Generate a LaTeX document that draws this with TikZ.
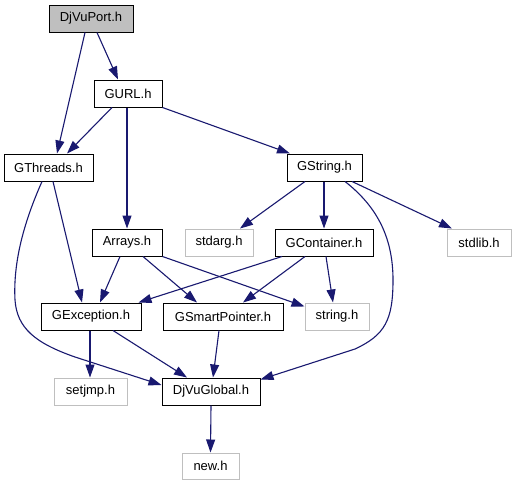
\documentclass[tikz,border=0pt]{standalone}
\usepackage{fontspec}
\setmainfont{Liberation Sans}
\usetikzlibrary{arrows.meta}
\definecolor{edgeblue}{HTML}{191970}
\definecolor{extgray}{HTML}{BFBFBF}
\begin{document}
\begin{tikzpicture}[x=1pt,y=-1pt,
  box/.style={draw=black,line width=1pt,fill=white,rectangle,inner sep=0pt,minimum height=27pt,font=\fontsize{13pt}{15pt}\selectfont},
  extbox/.style={box,draw=extgray},
  rootbox/.style={box,fill=extgray},
  edge/.style={draw=edgeblue,line width=1.1pt,-{Triangle[length=13pt,width=9pt]}}]
\useasboundingbox (0,0) rectangle (516,485);
\fill[white] (0,0) rectangle (516,485);
% nodes
\node[rootbox,minimum width=84pt] (dp) at (91,18.5) {DjVuPort.h};
\node[box,minimum width=68pt] (gurl) at (128,93.5) {GURL.h};
\node[box,minimum width=89pt] (gth) at (48.5,167.5) {GThreads.h};
\node[box,minimum width=75pt] (gstr) at (324.5,167.5) {GString.h};
\node[box,minimum width=70pt] (arr) at (127,242.5) {Arrays.h};
\node[extbox,minimum width=68pt] (stdarg) at (219,242.5) {stdarg.h};
\node[box,minimum width=98pt] (gcont) at (324,242.5) {GContainer.h};
\node[extbox,minimum width=64pt] (stdlib) at (479,242.5) {stdlib.h};
\node[box,minimum width=100pt] (gexc) at (91,316.5) {GException.h};
\node[box,minimum width=120pt] (gsp) at (223,316.5) {GSmartPointer.h};
\node[extbox,minimum width=64pt] (strh) at (337,316.5) {string.h};
\node[extbox,minimum width=73pt] (setjmp) at (90.5,391.5) {setjmp.h};
\node[box,minimum width=98pt] (dvg) at (211,391.5) {DjVuGlobal.h};
\node[extbox,minimum width=57pt,minimum height=26pt] (newh) at (210.5,466) {new.h};
% edges
\draw[edge] ([xshift=-6pt]dp.south) -- ([xshift=8.5pt]gth.north);
\draw[edge] ([xshift=6pt]dp.south) -- ([xshift=-10pt]gurl.north);
\draw[edge] ([xshift=-16pt]gurl.south) -- ([xshift=18.5pt]gth.north);
\draw[edge] ([xshift=-1pt]gurl.south) -- (arr.north);
\draw[edge] (gurl.south east) -- ([xshift=-34.5pt]gstr.north);
\draw[edge] ([xshift=4.5pt]gth.south) -- ([xshift=-9pt]gexc.north);
\draw[edge] ([xshift=-6.5pt]gth.south) .. controls (24,222) and (13,262) .. (15,300)
  .. controls (17,328) and (35,343) .. (75,357) -- ([yshift=6.5pt]dvg.west);
\draw[edge] ([xshift=-19.5pt]gstr.south) -- ([xshift=21pt]stdarg.north);
\draw[edge] ([xshift=-0.5pt]gstr.south) -- (gcont.north);
\draw[edge] ([xshift=27.5pt]gstr.south) -- ([xshift=-27pt]stdlib.north);
\draw[edge] ([xshift=20.5pt]gstr.south) .. controls (375,205) and (393,235) .. (393,280)
  .. controls (393,320) and (385,335) .. (355,349) -- ([yshift=-2pt]dvg.north east);
\draw[edge] ([xshift=-7pt]arr.south) -- ([xshift=9pt]gexc.north);
\draw[edge] ([xshift=16pt]arr.south) -- ([xshift=-26pt]gsp.north);
\draw[edge] (arr.south east) -- ([yshift=10pt]strh.west);
\draw[edge] ([xshift=-42pt]gcont.south) -- ([xshift=-3pt]gexc.north east);
\draw[edge] ([xshift=-19pt]gcont.south) -- ([xshift=20pt]gsp.north);
\draw[edge] ([xshift=2pt]gcont.south) -- ([xshift=-4pt]strh.north);
\draw[edge] ([xshift=-1pt]gexc.south) -- ([xshift=-0.5pt]setjmp.north);
\draw[edge] ([xshift=22pt]gexc.south) -- ([xshift=-24pt]dvg.north);
\draw[edge] ([xshift=-4pt]gsp.south) -- ([xshift=2pt]dvg.north);
\draw[edge] (dvg.south) -- (newh.north);
\end{tikzpicture}
\end{document}
